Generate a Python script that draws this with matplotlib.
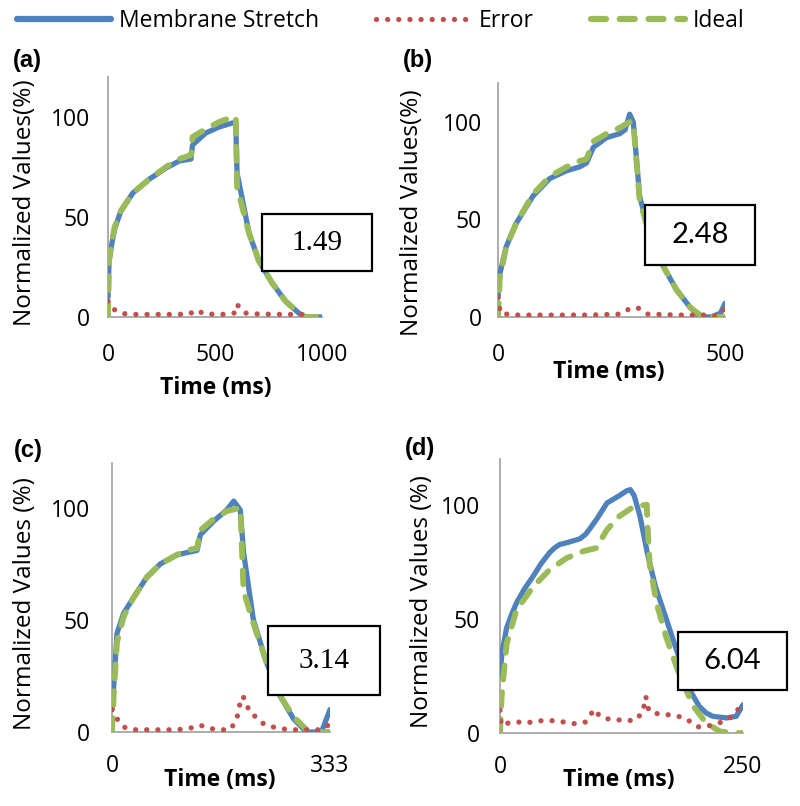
import matplotlib
matplotlib.use("Agg")
import matplotlib.pyplot as plt
from matplotlib.lines import Line2D
from matplotlib.patches import Rectangle

# ---------------------------------------------------------------------------
# Data - time in ms, values in % of peak
# ---------------------------------------------------------------------------

# (a) period 1000 ms
A_T_STRETCH = [0, 5, 15, 31, 60, 116, 194, 271, 333, 388, 395, 457, 519, 581, 597, 603, 659, 705, 767, 829, 891, 922, 1000]
A_STRETCH = [10, 28, 35, 44, 53, 62, 69, 74.5, 78, 79, 86, 92, 95, 97, 97, 72, 42, 28, 17, 8, 2, 0, 0]
A_T_IDEAL = [0, 5, 15, 31, 60, 116, 194, 271, 333, 388, 395, 457, 519, 581, 597, 603, 659, 705, 767, 829, 891, 922, 1000]
A_IDEAL = [0, 28, 36, 45, 53, 62, 69, 75, 79, 81, 90, 94, 97.5, 100, 100, 65, 42, 28, 17, 8, 2, 0, 0]
A_T_ERROR = [0, 10, 25, 56, 100, 200, 300, 380, 414, 450, 550, 590, 601, 615, 640, 700, 800, 900, 930]
A_ERROR = [8, 6, 4, 2, 1.3, 1.3, 1.3, 1.5, 3.5, 1.5, 1.3, 2, 6.3, 5, 2, 1.5, 1.3, 1.3, 1]

# (b) period 500 ms
B_T_STRETCH = [0, 4, 18, 40, 77, 114, 151, 180, 195, 210, 239, 268, 280, 290, 298, 312, 335, 364, 393, 423, 445, 470, 490, 500]
B_STRETCH = [10, 22, 36, 48, 62, 71, 75, 77, 79, 87, 92, 94, 96, 104, 100, 62, 41, 26, 14, 5, 0, 0, 2, 7]
B_T_IDEAL = [0, 4, 18, 40, 77, 114, 151, 180, 195, 210, 239, 268, 290, 298, 312, 335, 364, 393, 423, 445, 470, 500]
B_IDEAL = [0, 20, 36, 48, 63, 72, 77, 80, 81, 90, 94, 97, 100, 100, 60, 41, 26, 14, 5, 1, 0, 0]
B_T_ERROR = [0, 5, 33, 100, 200, 270, 290, 301, 312, 330, 400, 460, 480, 495, 500]
B_ERROR = [10, 2, 1, 1, 1, 1.5, 4.3, 5, 4.3, 1.5, 1, 1, 0.5, 3, 5]

# (c) period 333 ms
C_T_STRETCH = [0, 2.5, 7.6, 17.8, 33, 53, 74, 99, 114, 130, 135, 155, 175, 186, 196, 201, 216, 236, 257, 277, 297, 308, 320, 333]
C_STRETCH = [10, 20, 44, 53, 60, 69, 75, 79, 80, 81, 88, 94, 99, 103, 99, 80, 50, 31, 16, 6, 0, 0, 0, 10]
C_T_IDEAL = [0, 2.5, 7.6, 17.8, 33, 53, 74, 99, 114, 130, 135, 155, 175, 196, 201, 216, 236, 257, 277, 297, 308, 333]
C_IDEAL = [0, 16, 40, 51.5, 60, 69, 75, 79, 81, 82, 90, 95, 98.5, 100, 63, 48.5, 31, 16, 7, 1, 0, 0]
C_T_ERROR = [0, 5, 10, 15, 20, 30, 60, 100, 125, 135, 145, 160, 180, 190, 195, 200, 205, 210, 215, 225, 235, 250, 270, 300, 320, 330, 333]
C_ERROR = [10, 7, 5, 3, 2, 1, 1, 1, 2, 3, 2, 1, 1, 5, 12, 16, 13, 9, 8, 5, 3, 2, 1, 1, 1, 3, 5]

# (d) period 250 ms
D_T_STRETCH = [0, 2, 6.8, 12, 17, 25, 34, 42, 51, 56, 61, 70, 82, 88, 92.5, 100, 110, 123, 130, 134, 138, 144, 152, 160, 171, 185, 195, 205, 212, 219, 233, 243, 250]
D_STRETCH = [25, 35, 46, 52, 57, 63, 68.6, 74, 79, 81, 82.5, 83.5, 85, 87, 89.5, 94, 100.7, 104, 106, 106.6, 104, 95, 78, 64, 50, 32, 19, 11.7, 8.8, 7.3, 6.6, 7.3, 12.4]
D_T_IDEAL = [0, 1.7, 6.8, 17, 34, 51, 68.5, 85.6, 99, 110, 123, 137, 151, 152, 154, 161, 171, 185, 199, 212, 226, 240, 250]
D_IDEAL = [0, 16, 39, 54, 64, 71.5, 76.6, 79.6, 81, 89, 95, 99, 100, 89, 74, 57, 42, 25, 11.7, 4.4, 0.7, 0, 0]
D_T_ERROR = [0, 1, 5, 10, 19, 27, 39, 49, 57, 66, 76, 88, 97, 102, 108, 116, 127, 139, 147, 150, 153, 158, 166, 177, 187, 194, 200, 205, 218, 228, 238, 250]
D_ERROR = [10, 3.4, 4, 4.5, 4.8, 4.4, 5.3, 5.5, 5.3, 4.8, 4.1, 4.8, 10.4, 7.7, 6.3, 6, 5.5, 5.5, 9.2, 16, 10, 8.5, 8.5, 7.7, 7, 5.5, 3.4, 2.6, 3.4, 4.8, 7, 12.8]

PANEL_LABELS = ["(a)", "(b)", "(c)", "(d)"]
X_MAX = [1000, 500, 333, 250]
X_TICKS = [[0, 500, 1000], [0, 500], [0, 333], [0, 250]]
Y_TICKS = [0, 50, 100]
SCORES = ["1.49", "2.48", "3.14", "6.04"]
Y_LABELS = ["Normalized Values(%)", "Normalized Values(%)",
            "Normalized Values (%)", "Normalized Values (%)"]
SERIES_NAMES = ["Membrane Stretch", "Error", "Ideal"]

# ---------------------------------------------------------------------------
# Layout (pixels of an 800 x 806 canvas)
# ---------------------------------------------------------------------------

W, H = 800, 806
BLUE, RED, GREEN = "#4F81BD", "#C0504D", "#9BBB59"
SPINE = "#A6A6A6"
SANS = "Open Sans"

# left, right, top (y=120), bottom (y=0)
AX_PX = [(108, 322, 77, 317), (498, 725, 83, 317), (112, 330, 463, 732), (500, 743, 459, 733)]
# score box: left, right, top, bottom
BOX_PX = [(262, 372, 214, 271), (645, 755, 205, 265), (268, 380, 626, 695), (678, 787, 632, 690)]
SCORE_FONT = ["Liberation Serif", "Lato", "Liberation Serif", "Lato"]
LABEL_PX = [(27, 61), (418, 61), (28, 451), (420, 448)]
XLABEL_AX = [(0.505, -0.296), (0.49, -0.235), (0.495, -0.178), (0.49, -0.172)]
YLABEL_AX = [(-0.388, 0.475), (-0.379, 0.444), (-0.40, 0.476), (-0.32, 0.48)]
XPAD = [19, 19, 15.5, 16]
YPAD = [13, 11.5, 16, 14.4]

series = [
    (A_T_STRETCH, A_STRETCH, A_T_IDEAL, A_IDEAL, A_T_ERROR, A_ERROR),
    (B_T_STRETCH, B_STRETCH, B_T_IDEAL, B_IDEAL, B_T_ERROR, B_ERROR),
    (C_T_STRETCH, C_STRETCH, C_T_IDEAL, C_IDEAL, C_T_ERROR, C_ERROR),
    (D_T_STRETCH, D_STRETCH, D_T_IDEAL, D_IDEAL, D_T_ERROR, D_ERROR),
]

stretch_style = dict(color=BLUE, lw=3.8, solid_capstyle="round", solid_joinstyle="round")
ideal_style = dict(color=GREEN, lw=4.2, dashes=(2.4, 2.2), dash_capstyle="round")
error_style = dict(color=RED, lw=3.8, dashes=(0.01, 2.1), dash_capstyle="round")

fig = plt.figure(figsize=(W / 100, H / 100), dpi=100)

for i, (ts, s, ti, ideal, te, err) in enumerate(series):
    l, r, t, b = AX_PX[i]
    ax = fig.add_axes([l / W, 1 - b / H, (r - l) / W, (b - t) / H])
    ax.plot(ts, s, zorder=2, **stretch_style)
    ax.plot(ti, ideal, zorder=3, **ideal_style)
    ax.plot(te, err, zorder=4, **error_style)

    ax.set_xlim(0, X_MAX[i])
    ax.set_ylim(0, 120)
    ax.set_xticks(X_TICKS[i])
    ax.set_yticks(Y_TICKS)
    ax.tick_params(length=0, labelsize=16.5)
    ax.tick_params(axis="x", pad=XPAD[i])
    ax.tick_params(axis="y", pad=YPAD[i])
    for lab in ax.get_xticklabels() + ax.get_yticklabels():
        lab.set_fontfamily(SANS)
    ax.spines[["top", "right"]].set_visible(False)
    for side in ("left", "bottom"):
        ax.spines[side].set_color(SPINE)
        ax.spines[side].set_linewidth(1.3)
        ax.spines[side].set_zorder(1)
    ax.patch.set_alpha(0)

    ax.set_xlabel("Time (ms)", fontfamily=SANS, fontweight="bold", fontsize=16.5)
    ax.xaxis.set_label_coords(*XLABEL_AX[i])
    ax.xaxis.label.set_va("center")
    ax.set_ylabel(Y_LABELS[i], fontfamily=SANS, fontsize=17.5)
    ax.yaxis.set_label_coords(*YLABEL_AX[i])
    ax.yaxis.label.set_va("center")

    # score box
    bl, br, bt, bb = BOX_PX[i]
    fig.add_artist(Rectangle((bl / W, 1 - bb / H), (br - bl) / W, (bb - bt) / H,
                             transform=fig.transFigure, facecolor="white",
                             edgecolor="black", lw=1.6, zorder=10))
    fig.text((bl + br) / 2 / W, 1 - (bt + bb) / 2 / H, SCORES[i], ha="center", va="center",
             fontsize=21, fontfamily=SCORE_FONT[i], zorder=11)

    px, py = LABEL_PX[i]
    fig.text(px / W, 1 - py / H, PANEL_LABELS[i], ha="center", va="center",
             fontsize=17, fontweight="bold", fontfamily="Liberation Sans")

handles = [Line2D([], [], **{**stretch_style, "lw": 4.5}), Line2D([], [], **error_style),
           Line2D([], [], **{**ideal_style, "lw": 4.5})]
fig.legend(handles, SERIES_NAMES, loc="center left", bbox_to_anchor=(17 / W, 1 - 21 / H),
           ncol=3, frameon=False, prop={"family": SANS, "size": 16.5},
           handlelength=4.1, handletextpad=0.35, columnspacing=2.5,
           borderpad=0, borderaxespad=0)

fig.savefig("out.png", dpi=100)
